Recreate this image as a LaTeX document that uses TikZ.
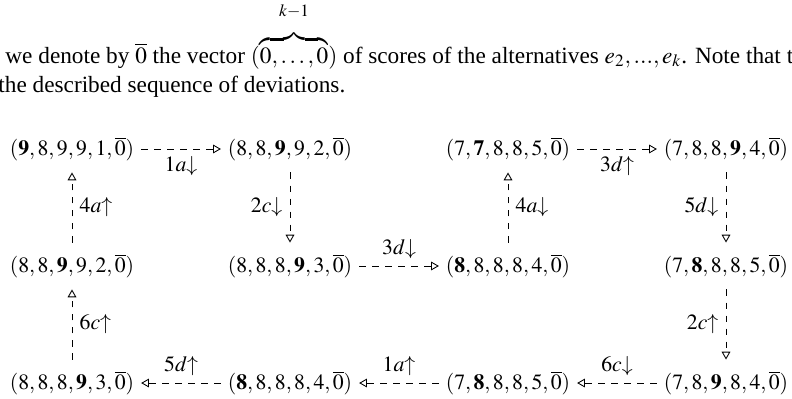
\documentclass[tikz,border=0pt]{standalone}
\usepackage{mathptmx}
\usepackage{fontspec}
\setmainfont{Liberation Serif}
\usetikzlibrary{arrows.meta}

\newcommand{\zv}{\overline{0}}
\newcommand{\bd}[1]{\mathbf{#1}}

\begin{document}
\begin{tikzpicture}[x=0.46pt, y=-0.46pt,
  vec/.style={inner xsep=0pt, inner ysep=2pt},
  txt/.style={anchor=base west, inner sep=0pt, font=\fontsize{10.7}{13}\selectfont},
  dev/.style={dashed, -{Triangle[open,length=3.6pt,width=4pt]}, shorten <=3pt, shorten >=3pt},
]
\clip (0,0) rectangle (792,398);
% running text above the picture
\node[txt] (txt1) at (5,63) {we denote by $\zv$ the vector $(\overbrace{0,\dots,0}^{\raisebox{5pt}{$\scriptstyle k-1$}})$ of scores of the alternatives $e_2,...,e_k$. Note that t};
\node[txt] (txt2) at (-2,92) {the described sequence of deviations.};

% score vectors
\node[vec] (n11) at (72,149)  {$(\bd{9},8,9,9,1,\zv)$};
\node[vec] (n12) at (290,149) {$(8,8,\bd{9},9,2,\zv)$};
\node[vec] (n13) at (508,149) {$(7,\bd{7},8,8,5,\zv)$};
\node[vec] (n14) at (726,149) {$(7,8,8,\bd{9},4,\zv)$};
\node[vec] (n21) at (72,266)  {$(8,8,\bd{9},9,2,\zv)$};
\node[vec] (n22) at (290,266) {$(8,8,8,\bd{9},3,\zv)$};
\node[vec] (n23) at (508,266) {$(\bd{8},8,8,8,4,\zv)$};
\node[vec] (n24) at (726,266) {$(7,\bd{8},8,8,5,\zv)$};
\node[vec] (n31) at (72,383)  {$(8,8,8,\bd{9},3,\zv)$};
\node[vec] (n32) at (290,383) {$(\bd{8},8,8,8,4,\zv)$};
\node[vec] (n33) at (508,383) {$(7,\bd{8},8,8,5,\zv)$};
\node[vec] (n34) at (726,383) {$(7,8,\bd{9},8,4,\zv)$};

% deviations
\foreach \a/\b/\l/\p in {n11/n12/1a{\downarrow}/below, n12/n22/2c{\downarrow}/left,
  n22/n23/3d{\downarrow}/above, n23/n13/4a{\downarrow}/right, n13/n14/3d{\uparrow}/below,
  n14/n24/5d{\downarrow}/left, n24/n34/2c{\uparrow}/left, n34/n33/6c{\downarrow}/above,
  n33/n32/1a{\uparrow}/above, n32/n31/5d{\uparrow}/above, n31/n21/6c{\uparrow}/right,
  n21/n11/4a{\uparrow}/right}
  {\draw[dev] (\a) -- node[\p]{$\l$} (\b);}
\end{tikzpicture}
\end{document}
